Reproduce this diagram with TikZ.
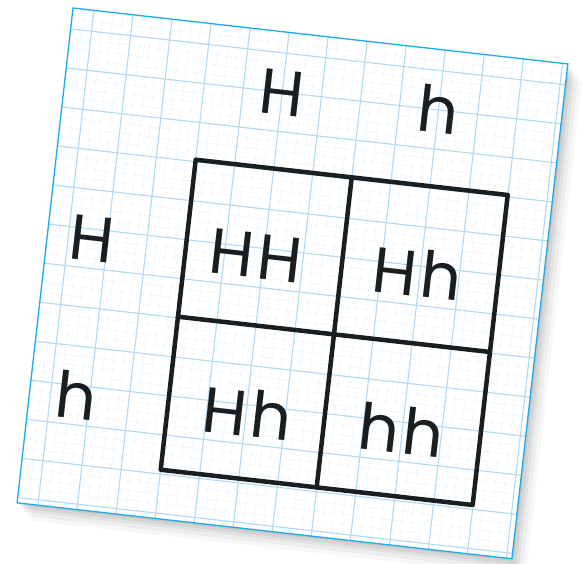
\documentclass[tikz,border=0pt]{standalone}
\usepackage{fontspec}
\setmainfont{Poppins}
\definecolor{sheetblue}{RGB}{30,170,235}
\definecolor{gridblue}{RGB}{178,218,242}
\definecolor{inkblack}{RGB}{25,30,32}
\tikzset{
  allele/.style={anchor=base, inner sep=0pt, text=inkblack,
    font=\fontsize{64}{72}\selectfont\addfontfeatures{LetterSpace=6}},
  squareline/.style={draw=inkblack, line width=4.5pt, line cap=round, line join=round},
  majorgrid/.style={draw=gridblue, line width=1.1pt},
  minorgrid/.style={draw=gridblue!25, line width=0.5pt}
}
\begin{document}
\begin{tikzpicture}[x=1pt,y=1pt]
  \useasboundingbox (0,0) rectangle (583,564);
  % sheet frame, tilted
  \begin{scope}[shift={(73,556)}, rotate=-6.45, transform shape]
    % shadow
    \foreach \d/\o in {16/0.03, 12/0.04, 8/0.05, 5/0.06, 2/0.07}
      \fill[black, opacity=\o] (\d,-\d) rectangle (498+\d,-498-\d);
    \fill[white] (0,0) rectangle (498,-498);
    % graph paper
    \begin{scope}
      \clip (0,0) rectangle (498,-498);
      \foreach \k in {0,...,50} {
        \pgfmathsetmacro\p{21+(\k-2)*9.825}
        \draw[minorgrid] (\p,0) -- (\p,-498);
        \draw[minorgrid] (0,-\p) -- (498,-\p);
      }
      \foreach \k in {0,...,12} {
        \pgfmathsetmacro\p{21+\k*39.3}
        \draw[majorgrid] (\p,0) -- (\p,-498);
        \draw[majorgrid] (0,-\p) -- (498,-\p);
      }
    \end{scope}
    \draw[sheetblue, line width=1.3pt] (0,0) rectangle (498,-498);
    % Punnett square
    \coordinate (sqTL) at (139,-137);
    \coordinate (sqBR) at (453,-449);
    \coordinate (midT) at (296,-137);
    \coordinate (midB) at (296,-449);
    \coordinate (midL) at (139,-295);
    \coordinate (midR) at (453,-295);
    \draw[squareline] (sqTL) rectangle (sqBR);
    \draw[squareline] (midT) -- (midB);
    \draw[squareline] (midL) -- (midR);
    % parent alleles
    \node[allele] (topH) at (217,-83) {H};
    \node[allele] (toph) at (375,-83) {h};
    \node[allele] (leftH) at (45,-250) {H};
    \node[allele] (lefth) at (47,-408) {h};
    % offspring
    \node[allele] (cellHH) at (210,-248) {HH};
    \node[allele] (cellHh) at (372,-248) {Hh};
    \node[allele] (cellhH) at (219,-406) {Hh};
    \node[allele] (cellhh) at (374,-406) {hh};
  \end{scope}
\end{tikzpicture}
\end{document}
